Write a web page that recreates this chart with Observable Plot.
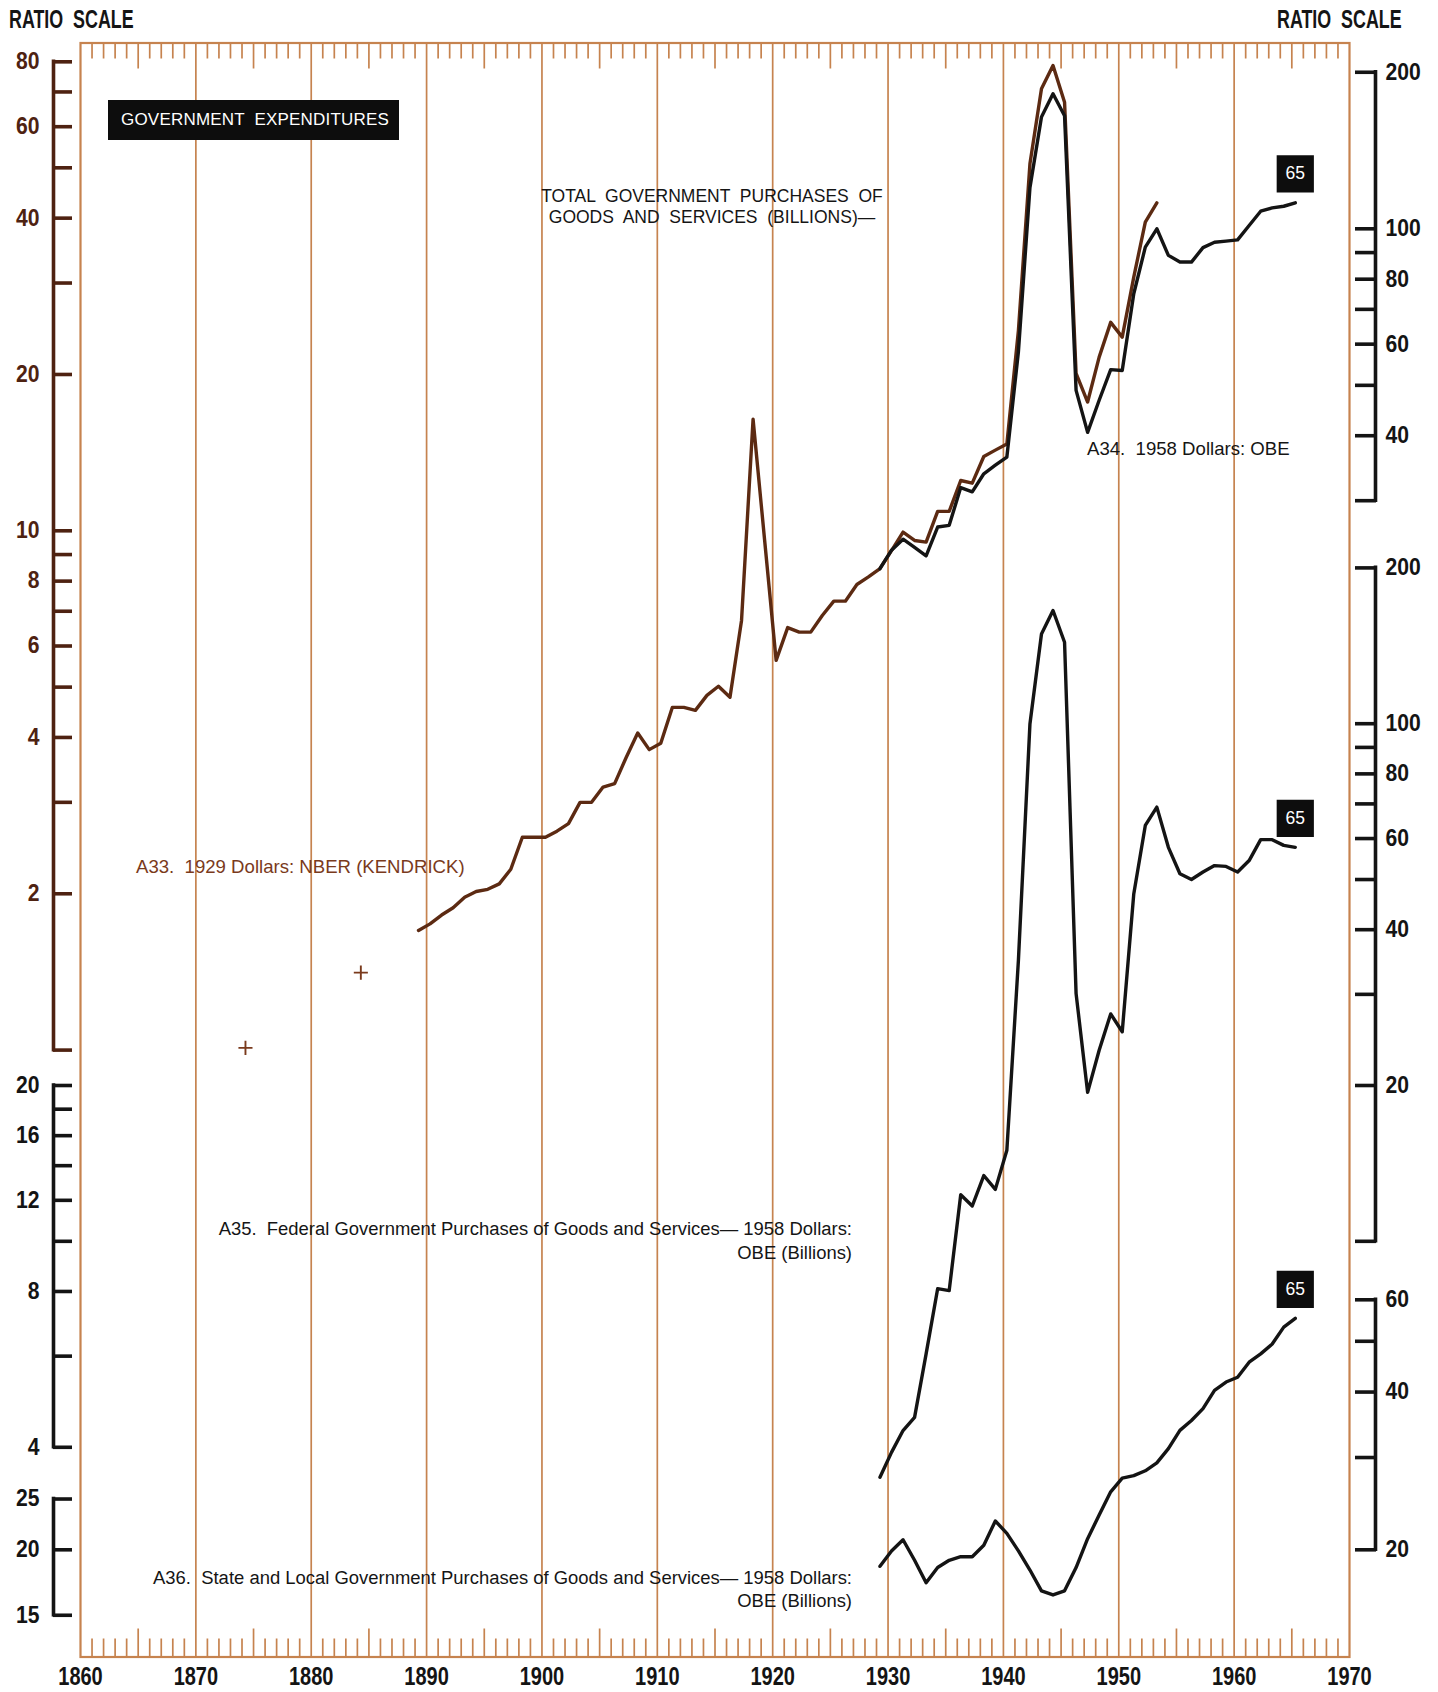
<!DOCTYPE html>
<html><head><meta charset="utf-8">
<script src="https://cdn.jsdelivr.net/npm/d3@7"></script>
<script src="https://cdn.jsdelivr.net/npm/@observablehq/plot@0.6"></script>
<style>
body{margin:0;background:#fff;}
#chart{position:relative;width:1438px;height:1692px;overflow:hidden;font-family:"Liberation Sans",Arial,sans-serif;background:#fff;}
#chart svg{position:absolute;left:0;top:0;}
.lbl{position:absolute;white-space:pre;font-size:18.6px;line-height:22px;color:#151515;}
.narrow{position:absolute;white-space:pre;font-family:"Liberation Sans",Arial,sans-serif;font-weight:bold;color:#151515;}
</style></head><body><div id="chart"></div>
<script>
// ---------------- data ----------------
const yearsA33 = d3.range(1889, 1954); // 1889..1953
const valuesA33 = [1.70,1.75,1.82,1.88,1.97,2.02,2.04,2.09,2.23,2.57,
  2.57,2.57,2.64,2.73,3.00,3.00,3.21,3.26,3.66,4.08,
  3.79,3.90,4.57,4.57,4.51,4.82,5.02,4.78,6.72,16.4,
  9.6,5.63,6.51,6.38,6.38,6.87,7.32,7.32,7.88,8.15,
  8.46,9.16,9.94,9.58,9.51,10.9,10.9,12.5,12.35,13.9,
  14.3,14.7,24.3,50.9,71.0,78.7,66.9,20.1,17.7,21.6,
  25.2,23.6,30.8,39.3,42.8];
const plusYears = [1874, 1884];
const plusValues = [1.01, 1.41];

const yearsOBE = d3.range(1929, 1966); // 1929..1965
const valuesA34 = [22.2,24.1,25.3,24.4,23.5,26.7,26.9,31.8,31.2,33.8,
  35.1,36.4,58,120,164,181.8,165,48.9,40.6,46.8,
  53.6,53.4,75.0,92.2,100,88.9,86.3,86.3,92.0,94.2,
  94.7,95.2,101.5,108.1,109.7,110.5,112.2];
const valuesA35 = [3.50,3.91,4.31,4.57,6.06,8.10,8.03,12.3,11.7,13.4,
  12.6,15.0,34.9,99.9,149,165.5,143.7,30.1,19.4,23.4,
  27.5,25.4,46.9,63.6,69.0,57.7,51.3,50.0,51.7,53.2,
  53.0,51.7,54.4,59.7,59.7,58.2,57.7];
const valuesA36 = [18.6,19.9,20.9,19.1,17.3,18.5,19.1,19.4,19.4,20.4,
  22.7,21.5,19.9,18.3,16.7,16.4,16.7,18.5,21.0,23.3,
  25.8,27.4,27.7,28.3,29.3,31.2,33.8,35.3,37.2,40.3,
  41.8,42.7,45.6,47.3,49.4,53.2,55.3];

// axis ticks
const decadeLabels = [1860,1870,1880,1890,1900,1910,1920,1930,1940,1950,1960,1970];
const ticksA33 = [80,70,60,50,40,30,20,10,9,8,7,6,5,4,3,2,1];
const labelsA33 = [80,60,40,20,10,8,6,4,2];
const ticksA34 = [200,100,90,80,70,60,50,40,30];
const labelsA34 = [200,100,80,60,40];
const ticksA35L = [20,18,16,14,12,10,8,6,4];
const labelsA35L = [20,16,12,8,4];
const ticksA35R = [200,100,90,80,70,60,50,40,30,20,10];
const labelsA35R = [200,100,80,60,40,20];
const ticksA36L = [25,20,15];
const labelsA36L = [25,20,15];
const ticksA36R = [60,50,40,30,20];
const labelsA36R = [60,40,20];

// ---------------- tables ----------------
const A33 = yearsA33.map((year,i)=>({year, value: valuesA33[i]}));
const pluses = plusYears.map((year,i)=>({year, value: plusValues[i]}));
const A34 = yearsOBE.map((year,i)=>({year, value: valuesA34[i]}));
const A35 = yearsOBE.map((year,i)=>({year, value: valuesA35[i]}));
const A36 = yearsOBE.map((year,i)=>({year, value: valuesA36[i]}));

// ---------------- styling ----------------
const W = 1438, H = 1692;
const FL = 80, FR = 1349, FT = 42.5, FB = 1656.5, FH = FB - FT;
const GRID = "#c6834f", BROWN_AX = "#4e2211", BROWN_LINE = "#5c2a12", BLACK = "#141414";
const BOLDF = "Liberation Sans, Arial, sans-serif";
const OFF = 0.3; // values plotted at mid-year
const X = {domain:[1860,1970], range:[FL,FR]};
const common = {width:W, height:H, marginLeft:FL, marginRight:W-FR, marginTop:FT, marginBottom:H-FB,
  style:{background:"transparent", overflow:"visible"}};
const chart = document.getElementById("chart");

// condense axis tick labels horizontally (narrow bold face of the original)
function squeeze(svg, sx){
  svg.querySelectorAll("g[aria-label$='tick label'] text").forEach(t=>{
    const tr = t.getAttribute("transform");
    if (tr) t.setAttribute("transform", tr + ` scale(${sx},1)`);
    else {
      const x = +t.getAttribute("x") || 0, y = +t.getAttribute("y") || 0;
      t.setAttribute("transform", `translate(${x},${y}) scale(${sx},1) translate(${-x},${-y})`);
    }
  });
  return svg;
}

const allYears = d3.range(1861, 1970).filter(y => y % 10 !== 0);
const minorYears = allYears.filter(y => y % 5 !== 0);
const fiveYears = allYears.filter(y => y % 5 === 0);

// ---------------- base: frame, grid, year ticks ----------------
chart.append(squeeze(Plot.plot({...common, x:X, marks:[
  Plot.ruleX(decadeLabels.slice(1,-1), {stroke:GRID, strokeWidth:1.7}),
  Plot.ruleX(minorYears, {stroke:GRID, strokeWidth:1.7, insetBottom:FH-16}),
  Plot.ruleX(fiveYears, {stroke:GRID, strokeWidth:1.7, insetBottom:FH-26}),
  Plot.ruleX(minorYears, {stroke:GRID, strokeWidth:1.7, insetTop:FH-18}),
  Plot.ruleX(fiveYears, {stroke:GRID, strokeWidth:1.7, insetTop:FH-28}),
  Plot.frame({stroke:GRID, strokeWidth:2.2}),
  Plot.axisX(decadeLabels, {anchor:"bottom", tickSize:0, tickPadding:10, label:null,
    tickFormat:d=>String(d), fontSize:25, fontWeight:"bold", fontFamily:BOLDF, fill:BLACK})
]}), 0.8));

// helpers for bracket axes
function leftAxis(ticks, labels, color){
  return [
    Plot.ruleX([{x:1860, y1:d3.max(ticks), y2:d3.min(ticks)}], {x:"x", y1:"y1", y2:"y2", dx:-27, stroke:color, strokeWidth:3.6, strokeLinecap:"square"}),
    Plot.axisY(ticks, {anchor:"left", tickSize:19, dx:-8, stroke:color, strokeWidth:3.6, tickFormat:()=>"", label:null}),
    Plot.axisY(labels, {anchor:"left", tickSize:0, tickPadding:33, dx:-8, label:null, tickFormat:d=>String(d),
      fontSize:23, fontWeight:"bold", fontFamily:BOLDF, fill:color})
  ];
}
function rightAxis(ticks, labels, color){
  return [
    Plot.ruleX([{x:1970, y1:d3.max(ticks), y2:d3.min(ticks)}], {x:"x", y1:"y1", y2:"y2", dx:26, stroke:color, strokeWidth:3.6, strokeLinecap:"square"}),
    Plot.axisY(ticks, {anchor:"right", tickSize:21, dx:5, stroke:color, strokeWidth:3.6, tickFormat:()=>"", label:null}),
    Plot.axisY(labels, {anchor:"right", tickSize:0, tickPadding:31, dx:5, label:null, tickFormat:d=>String(d),
      fontSize:23, fontWeight:"bold", fontFamily:BOLDF, fill:color})
  ];
}
function endBox(data){
  const last = [data[data.length-1]];
  return [
    Plot.dot(last, {x:d=>d.year+OFF, y:"value", dy:-29, symbol:"square", r:21, fill:"#0d0d0d", stroke:null}),
    Plot.text(last, {x:d=>d.year+OFF, y:"value", dy:-29, text:d=>String(d.year).slice(2), fill:"white", fontSize:17.5, fontFamily:BOLDF})
  ];
}
const lineOpts = (color) => ({x:d=>d.year+OFF, y:"value", stroke:color, strokeWidth:3.4, strokeLinejoin:"round", strokeLinecap:"round"});

// ---------------- A33 (1929 dollars, NBER Kendrick) ----------------
chart.append(squeeze(Plot.plot({...common, x:{...X, axis:null},
  y:{type:"log", domain:[1,100], range:[1049.6, 11.0]},
  marks:[
    ...leftAxis(ticksA33, labelsA33, BROWN_AX),
    Plot.line(A33, lineOpts(BROWN_LINE)),
    Plot.dot(pluses, {x:d=>d.year+OFF, y:"value", symbol:"plus", r:4.6, stroke:"#7a3a1c", strokeWidth:1.9})
  ]}), 0.92));

// ---------------- A34 (1958 dollars, OBE total) ----------------
chart.append(squeeze(Plot.plot({...common, x:{...X, axis:null},
  y:{type:"log", domain:[30,200], range:[1268.3-520*Math.log10(30), 1268.3-520*Math.log10(200)]},
  marks:[
    ...rightAxis(ticksA34, labelsA34, BLACK),
    Plot.line(A34, lineOpts(BLACK)),
    ...endBox(A34)
  ]}), 0.92));

// ---------------- A35 (federal) ----------------
chart.append(squeeze(Plot.plot({...common, x:{...X, axis:null},
  y:{type:"log", domain:[4,200], range:[1085+517.6*Math.log10(5), 1085-517.6]},
  marks:[
    ...leftAxis(ticksA35L, labelsA35L, BLACK),
    ...rightAxis(ticksA35R, labelsA35R, BLACK),
    Plot.line(A35, lineOpts(BLACK)),
    ...endBox(A35)
  ]}), 0.92));

// ---------------- A36 (state and local) ----------------
chart.append(squeeze(Plot.plot({...common, x:{...X, axis:null},
  y:{type:"log", domain:[15,60], range:[1549.3+524*Math.log10(20/15), 1549.3-524*Math.log10(3)]},
  marks:[
    ...leftAxis(ticksA36L, labelsA36L, BLACK),
    ...rightAxis(ticksA36R, labelsA36R, BLACK),
    Plot.line(A36, lineOpts(BLACK)),
    ...endBox(A36)
  ]}), 0.92));

// ---------------- text ----------------
function addDiv(cls, html, css){
  const d = document.createElement("div");
  d.className = cls; d.innerHTML = html; d.style.cssText = css;
  chart.appendChild(d);
}
addDiv("narrow", "RATIO  SCALE", "left:9px;top:7px;font-size:25.5px;line-height:25px;transform:scaleX(0.7);transform-origin:left top;");
addDiv("narrow", "RATIO  SCALE", "left:1277px;top:7px;font-size:25.5px;line-height:25px;transform:scaleX(0.7);transform-origin:left top;");
addDiv("lbl", "GOVERNMENT  EXPENDITURES", "left:108px;top:100px;width:291px;height:40px;box-sizing:border-box;padding-left:13px;background:#0d0d0d;color:#fff;font-size:17px;line-height:40px;letter-spacing:0.2px;");
addDiv("lbl", "TOTAL  GOVERNMENT  PURCHASES  OF\nGOODS  AND  SERVICES  (BILLIONS)—", "left:512px;width:400px;top:185.5px;text-align:center;font-size:17.5px;line-height:21.7px;");
addDiv("lbl", "A34.  1958 Dollars: OBE", "left:1087px;top:437.8px;");
addDiv("lbl", "A33.  1929 Dollars: NBER (KENDRICK)", "left:136px;top:856.4px;color:#7a3a1c;");
addDiv("lbl", "A35.  Federal Government Purchases of Goods and Services— 1958 Dollars:\nOBE (Billions)", "right:586px;top:1217px;text-align:right;font-size:18.45px;line-height:23.7px;");
addDiv("lbl", "A36.  State and Local Government Purchases of Goods and Services— 1958 Dollars:\nOBE (Billions)", "right:586px;top:1565.5px;text-align:right;font-size:18.45px;line-height:23.7px;");
</script></body></html>
